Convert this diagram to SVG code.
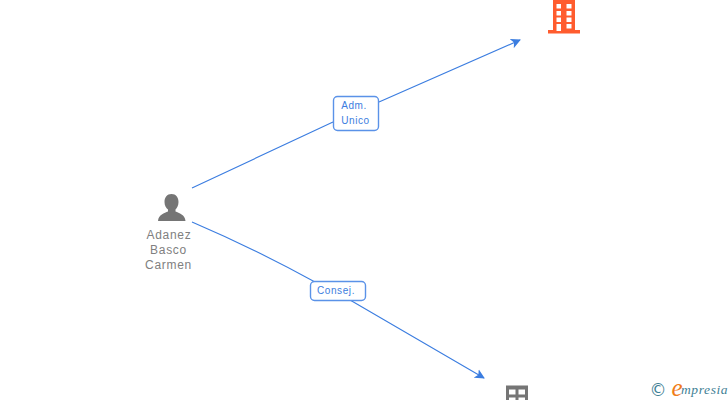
<svg xmlns="http://www.w3.org/2000/svg" width="728" height="400" viewBox="0 0 728 400">
<defs>
<style>
.edge{fill:none;stroke:#3b7de0;stroke-width:1.1}
.lbl{fill:#fff;stroke:#5a92e8;stroke-width:1.4}
.lt{font-family:"Liberation Sans",Arial,sans-serif;font-size:10px;fill:#3b7de0;text-anchor:middle;letter-spacing:.6px}
.nt{font-family:"Liberation Sans",Arial,sans-serif;font-size:12px;fill:#808080;text-anchor:middle;letter-spacing:.7px}
</style>
<marker id="arr" viewBox="0 0 10 10" refX="9" refY="5" markerWidth="10" markerHeight="11" markerUnits="userSpaceOnUse" orient="auto"><path d="M0 0L10 5L0 10L2.500 5Z" fill="#3b7de0"/></marker>
</defs>
<g id="connectors">
<path class="edge" d="M192 188L333 122M379 102L520 40" marker-end="url(#arr)"/>
<path class="edge" d="M192 222Q255 249 315 282M350 300L484 378" marker-end="url(#arr)"/>
</g>
<g id="edge-label-1"><rect class="lbl" x="333.500" y="96.500" width="45" height="34" rx="4"/><text class="lt" x="354" y="109">Adm.</text><text class="lt" x="355.500" y="124">Unico</text></g>
<g id="edge-label-2"><rect class="lbl" x="310.500" y="281.500" width="55" height="19" rx="4"/><text class="lt" x="336" y="294">Consej.</text></g>
<g id="node-building-orange">
<path fill="#ff5c2e" fill-rule="evenodd" d="M553 0H575V30H580V33.500H548V30H553ZM556.500 4V8.500H561V4ZM566.500 4V8.500H571.500V4ZM556.500 11V15.500H561V11ZM566.500 11V15.500H571.500V11ZM556.500 17.500V22H561V17.500ZM566.500 17.500V22H571.500V17.500ZM556.500 24V31H561V24ZM566.500 24V28.500H571.500V24Z"/>
</g>
<g id="node-person">
<path fill="#757575" d="M171.500 194C176 194 178.500 197.500 178.500 202C178.500 205.500 177 208 175.500 209.500V211.500C179 213 185 214.500 185.500 221H158C158.500 214.500 164.500 213 168 211.500V209.500C166 208 164.500 205.500 164.500 202C164.500 197.500 167 194 171.500 194Z"/>
<text class="nt" x="169" y="239">Adanez</text><text class="nt" x="168.500" y="254">Basco</text><text class="nt" x="168.500" y="269">Carmen</text>
</g>
<g id="node-building-gray">
<path fill="#757575" fill-rule="evenodd" d="M506 385.500H528V400H506ZM509 389.500V394.500H515.500V389.500ZM518.500 389.500V394.500H525V389.500ZM509 397.500V400H515.500V397.500ZM518.500 397.500V400H525V397.500Z"/>
</g>
<g id="watermark">
<text x="658" y="395.500" font-family="'DejaVu Sans',sans-serif" font-size="17" fill="#3f7f95" text-anchor="middle">©</text>
<text x="677" y="396" font-family="'Liberation Serif',serif" font-style="italic" font-size="25" fill="#f07d1a" text-anchor="middle">e</text>
<text x="681" y="394" font-family="'Liberation Serif',serif" font-style="italic" font-size="13.500" fill="#3f7f95" letter-spacing=".6">mpresia</text>
</g>
</svg>
